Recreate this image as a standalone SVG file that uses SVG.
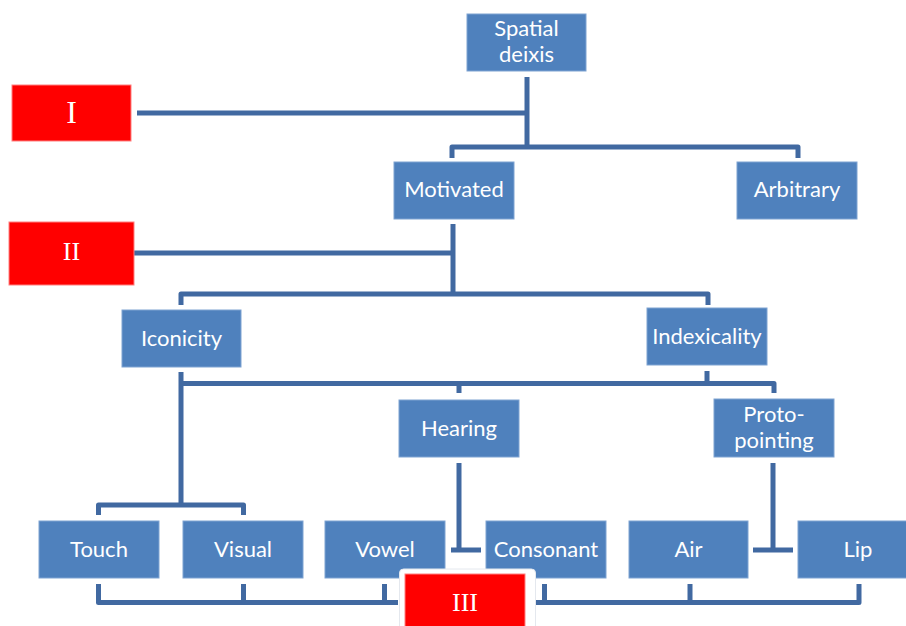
<svg xmlns="http://www.w3.org/2000/svg" width="906" height="626" viewBox="0 0 906 626">
<style>
.box{fill:#4F81BD;stroke:#7FA3D2;stroke-width:1}
.red{fill:#FF0000;stroke:#FF8080;stroke-width:1}
.lbl{font-family:Lato,"Open Sans","Liberation Sans",sans-serif;font-size:22px;fill:#FFFFFF;text-anchor:middle}
.rom{font-family:"Liberation Serif","DejaVu Serif",serif;fill:#FFFFFF;text-anchor:middle}
.con path{fill:none;stroke:#4169A1;stroke-width:5;stroke-linejoin:round}
</style>
<rect width="906" height="626" fill="#FFFFFF"/>
<g class="con" id="connectors">
<path d="M137,113 H527"/>
<path d="M527,77 V147"/>
<path d="M452,158 V147 H798 V158"/>
<path d="M134,253 H453"/>
<path d="M453,224 V294"/>
<path d="M181,305 V294 H708 V305"/>
<path d="M181,372 V505"/>
<path d="M181,383.5 H774 V393"/>
<path d="M459,383.5 V393"/>
<path d="M707,371 V383.5"/>
<path d="M98.5,515 V505 H243.5 V515"/>
<path d="M459,463 V550"/>
<path d="M451,550 H481"/>
<path d="M773,463 V550"/>
<path d="M753,550 H793"/>
<path d="M98.5,584 V602.5 H398"/>
<path d="M243.5,584 V602.5"/>
<path d="M384.5,584 V602.5"/>
<path d="M536,602.5 H859 V584"/>
<path d="M544.5,584 V602.5"/>
<path d="M690,584 V602.5"/>
</g>
<g id="spatial-deixis"><rect class="box" x="467" y="14" width="119" height="57"/><text class="lbl" x="526.5" y="36">Spatial</text><text class="lbl" x="526.5" y="62">deixis</text></g>
<g id="I"><rect class="red" x="12" y="85" width="119" height="56"/><text class="rom" x="71.5" y="123" font-size="32">I</text></g>
<g id="motivated"><rect class="box" x="394" y="162" width="120" height="57"/><text class="lbl" x="454" y="197">Motivated</text></g>
<g id="arbitrary"><rect class="box" x="737" y="162" width="120" height="57"/><text class="lbl" x="797" y="197">Arbitrary</text></g>
<g id="II"><rect class="red" x="9" y="222" width="125" height="63"/><text class="rom" x="71.5" y="260" font-size="26">II</text></g>
<g id="iconicity"><rect class="box" x="122" y="310" width="119" height="57"/><text class="lbl" x="181.5" y="346">Iconicity</text></g>
<g id="indexicality"><rect class="box" x="647" y="308" width="120" height="57"/><text class="lbl" x="707" y="344">Indexicality</text></g>
<g id="hearing"><rect class="box" x="399" y="400" width="120" height="57"/><text class="lbl" x="459" y="436">Hearing</text></g>
<g id="proto-pointing"><rect class="box" x="714" y="399" width="120" height="58"/><text class="lbl" x="774" y="422">Proto-</text><text class="lbl" x="774" y="448">pointing</text></g>
<g id="touch"><rect class="box" x="39" y="521" width="120" height="57"/><text class="lbl" x="99" y="557">Touch</text></g>
<g id="visual"><rect class="box" x="183" y="521" width="120" height="57"/><text class="lbl" x="243" y="557">Visual</text></g>
<g id="vowel"><rect class="box" x="325" y="521" width="120" height="57"/><text class="lbl" x="385" y="557">Vowel</text></g>
<g id="consonant"><rect class="box" x="486" y="521" width="120" height="57"/><text class="lbl" x="546" y="557">Consonant</text></g>
<g id="air"><rect class="box" x="629" y="521" width="119" height="57"/><text class="lbl" x="688.5" y="557">Air</text></g>
<g id="lip"><rect class="box" x="798" y="521" width="120" height="57"/><text class="lbl" x="858" y="557">Lip</text></g>
<g id="III"><rect x="399.5" y="569" width="136" height="70" rx="4" fill="#FFFFFF" stroke="#E4E8EE" stroke-width="1"/><rect class="red" x="405" y="574" width="120" height="60"/><text class="rom" x="465" y="611" font-size="26">III</text></g>
</svg>
